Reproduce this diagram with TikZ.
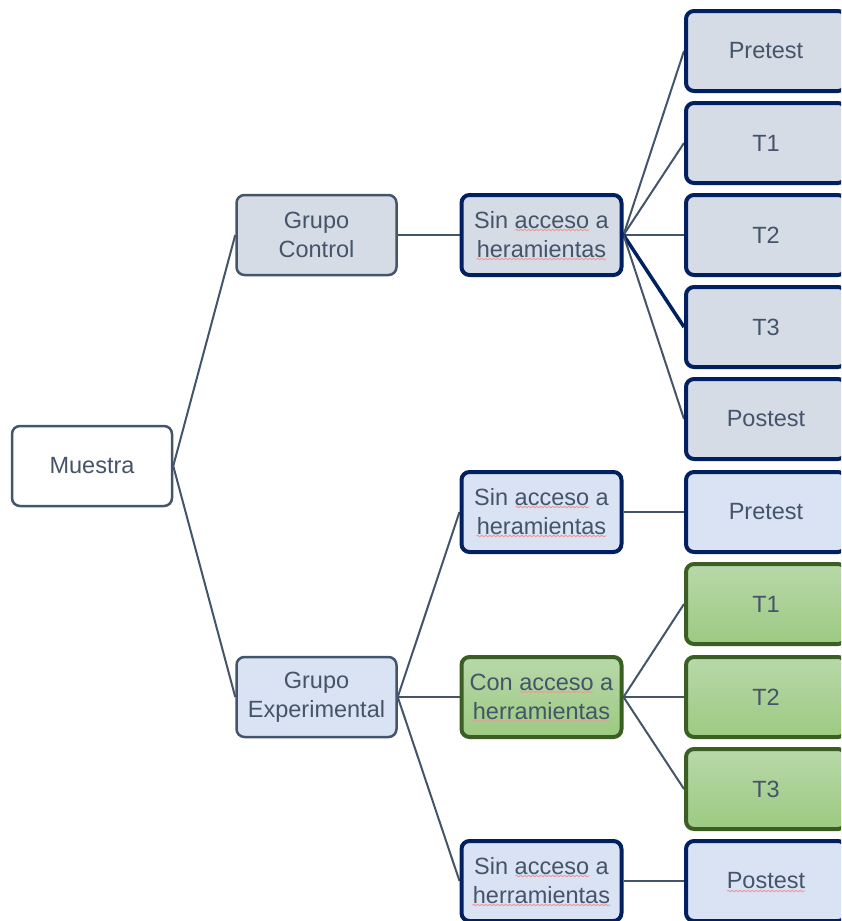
\documentclass[tikz,border=0pt]{standalone}
\usepackage{fontspec}
\setmainfont{Liberation Sans}
\usetikzlibrary{calc,decorations.pathmorphing}

\definecolor{txt}{HTML}{44546A}
\definecolor{navy}{HTML}{002060}
\definecolor{ctrlfill}{HTML}{D6DCE5}
\definecolor{expfill}{HTML}{DAE3F3}
\definecolor{grnborder}{HTML}{3B5E22}
\definecolor{grntop}{HTML}{B8D8A9}
\definecolor{grnbot}{HTML}{9DCA82}
\definecolor{spell}{HTML}{EC9A9A}

\pgfdeclarelayer{edges}
\pgfsetlayers{edges,main}

% wavy spell-check mark under a word: node, left, right, vertical offset
\newcommand\spellmark[4]{%
  \draw[spellwave] ($(#1.center)+(#2,#4)$) -- ($(#1.center)+(#3,#4)$);}

\begin{document}
\begin{tikzpicture}[x=1pt,y=-1pt,
  box/.style={rectangle, rounded corners=8pt, minimum width=160pt,
    minimum height=80pt, inner sep=0pt, align=center, text=txt,
    font=\fontsize{23.5}{29}\selectfont},
  rootbox/.style={box, draw=txt, line width=2.5pt, fill=white},
  ctrlgroup/.style={box, draw=txt, line width=2.5pt, fill=ctrlfill},
  expgroup/.style={box, draw=txt, line width=2.5pt, fill=expfill},
  ctrlbox/.style={box, draw=navy, line width=4pt, fill=ctrlfill},
  expbox/.style={box, draw=navy, line width=4pt, fill=expfill},
  greenbox/.style={box, draw=grnborder, line width=4pt,
    top color=grntop, bottom color=grnbot},
  link/.style={draw=txt, line width=2pt},
  boldlink/.style={draw=navy, line width=3.5pt},
  spellwave/.style={draw=spell, line width=0.9pt,
    decorate, decoration={snake, amplitude=0.8pt, segment length=4pt}}
]
\useasboundingbox (0,0) rectangle (841,921);
\clip (0,0) rectangle (841,921);

% root and groups
\node[rootbox]   (muestra) at (92,466)    {Muestra};
\node[ctrlgroup] (gc)      at (316.5,235) {Grupo\\Control};
\node[expgroup]  (ge)      at (316.5,697) {Grupo\\Experimental};

% control branch
\node[ctrlbox] (sc)   at (541.5,235) {Sin acceso a\\heramientas};
\node[ctrlbox] (cpre) at (766,51)    {Pretest};
\node[ctrlbox] (ct1)  at (766,143)   {T1};
\node[ctrlbox] (ct2)  at (766,235)   {T2};
\node[ctrlbox] (ct3)  at (766,327)   {T3};
\node[ctrlbox] (cpos) at (766,419)   {Postest};

% experimental branch
\node[expbox]   (se1)  at (541.5,512) {Sin acceso a\\heramientas};
\node[expbox]   (epre) at (766,512)   {Pretest};
\node[greenbox] (con)  at (541.5,697) {Con acceso a\\herramientas};
\node[greenbox] (et1)  at (766,604)   {T1};
\node[greenbox] (et2)  at (766,697)   {T2};
\node[greenbox] (et3)  at (766,789)   {T3};
\node[expbox]   (se2)  at (541.5,881) {Sin acceso a\\herramientas};
\node[expbox]   (epos) at (766,881)   {Postest};

% connectors
\begin{pgfonlayer}{edges}
  \draw[link] (muestra.east) -- (gc.west);
  \draw[link] (muestra.east) -- (ge.west);
  \draw[link] (gc.east) -- (sc.west);
  \draw[link] (sc.east) -- (cpre.west);
  \draw[link] (sc.east) -- (ct1.west);
  \draw[link] (sc.east) -- (ct2.west);
  \draw[boldlink] (sc.east) -- (ct3.west);
  \draw[link] (sc.east) -- (cpos.west);
  \draw[link] (ge.east) -- (se1.west);
  \draw[link] (ge.east) -- (con.west);
  \draw[link] (ge.east) -- (se2.west);
  \draw[link] (se1.east) -- (epre.west);
  \draw[link] (con.east) -- (et1.west);
  \draw[link] (con.east) -- (et2.west);
  \draw[link] (con.east) -- (et3.west);
  \draw[link] (se2.east) -- (epos.west);
\end{pgfonlayer}

% spell-check marks
\spellmark{sc}{-26}{48}{-5}
\spellmark{sc}{-65}{65}{24}
\spellmark{se1}{-26}{48}{-5}
\spellmark{se1}{-65}{65}{24}
\spellmark{con}{-22}{52}{-5}
\spellmark{con}{-69}{69}{24}
\spellmark{se2}{-26}{48}{-5}
\spellmark{se2}{-69}{69}{24}
\spellmark{epos}{-39}{39}{10}
\end{tikzpicture}
\end{document}
